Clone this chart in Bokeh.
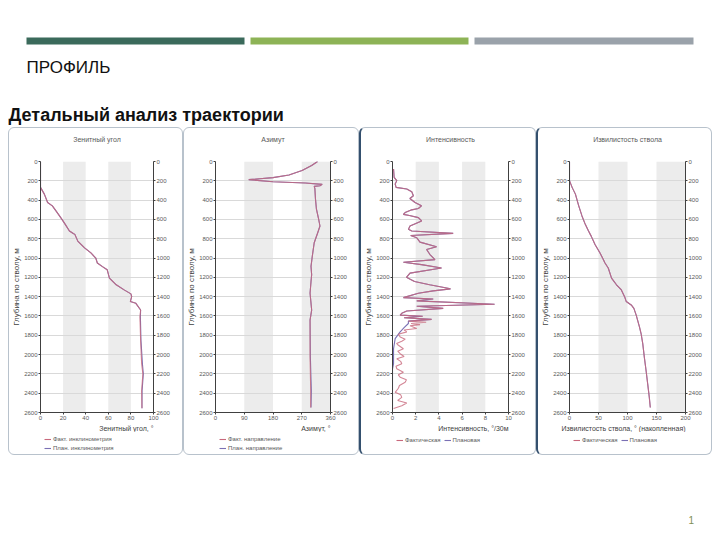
from bokeh.plotting import figure
from bokeh.models import Range1d, LinearAxis, FixedTicker, Title, Legend, LegendItem, Spacer
from bokeh.layouts import column, row
from bokeh.embed import file_html
from bokeh.resources import INLINE
from bokeh.core.properties import value

# ---------------- data ----------------
depth_ticks = [0, 200, 400, 600, 800, 1000, 1200, 1400, 1600, 1800, 2000, 2200, 2400, 2600]

# Panel 1: zenith angle
zen_md_fact = [0, 268, 338, 425, 460, 529, 599, 651, 720, 745, 755, 825, 894, 947, 1000, 1051,
               1086, 1121, 1208, 1277, 1330, 1371, 1400, 1451, 1469, 1538, 1608, 1852, 2095,
               2200, 2374, 2555]
zen_fact = [0, 0, 3.4, 6.3, 10.5, 14.8, 19.0, 21.9, 25.6, 29.0, 30.4, 33.0, 39.0, 44.6, 48.9, 50.3,
            54.5, 59.0, 61.0, 67.0, 74.0, 80.0, 80.7, 79.5, 84.4, 88.6, 88.0, 88.6, 89.5,
            90.6, 89.5, 89.8]
zen_md_plan = [0, 268, 338, 425, 460, 529, 599, 651, 720, 745, 755, 825, 894, 947, 1000, 1051,
               1086, 1121, 1208, 1277, 1330, 1371, 1400, 1451, 1469, 1538, 1608, 1852, 2095,
               2200, 2374, 2555]
zen_plan = [0, 0, 3.4, 6.3, 10.5, 14.8, 19.0, 21.9, 25.6, 29.0, 30.4, 33.0, 39.0, 44.6, 48.9, 50.3,
            54.5, 59.0, 61.0, 67.0, 74.0, 80.0, 80.7, 79.5, 84.4, 88.6, 88.4, 88.9, 90.2,
            91.0, 89.9, 89.8]
zen_ticks = [0, 20, 40, 60, 80, 100]

# Panel 2: azimuth
az_md_fact = [0, 42, 94, 139, 167, 188, 209, 223, 237, 251, 258, 278, 390, 494, 599, 668, 738,
              842, 981, 1086, 1173, 1243, 1365, 1539, 1643, 2026, 2374, 2548]
az_fact = [319.5, 301, 271, 230, 180, 104, 180, 281, 334, 327, 309, 311, 313, 316, 323, 327, 320,
           309, 303, 299, 301, 299, 296, 301, 296, 296, 298, 298]
az_md_plan = [0, 42, 94, 139, 167, 188, 209, 223, 237, 251, 258, 278, 390, 494, 599, 668, 738,
              842, 981, 1086, 1173, 1243, 1365, 1539, 1643, 2026, 2374, 2548]
az_plan = [319.5, 301, 271, 230, 180, 104, 180, 281, 334, 327, 309, 311, 313, 316, 323, 327, 320,
           309, 303, 299, 301, 299, 296, 301, 296, 297, 300, 299]
az_ticks = [0, 90, 180, 270, 360]

# Panel 3: dogleg intensity
dls_md_fact = [77, 164, 198, 233, 268, 285, 313, 355, 383, 425, 459, 487, 501, 529, 548, 560, 581,
               616, 668, 703, 720, 745, 766, 790, 835, 884, 912, 964, 1016, 1044, 1068, 1103,
               1156, 1200, 1243, 1277, 1319, 1340, 1364, 1410, 1424, 1444, 1479, 1500, 1521,
               1549, 1573, 1591, 1603, 1618, 1635, 1653, 1665, 1678, 1690, 1702, 1730, 1745,
               1765, 1790, 1817, 1840, 1862, 1885, 1904, 1939, 1965, 1991, 2020, 2043, 2070,
               2095, 2120, 2147, 2182, 2210, 2234, 2260, 2287, 2320, 2349, 2391, 2415, 2443,
               2475, 2502, 2530, 2558]
dls_fact = [0.09, 0.14, 0.37, 0.23, 0.31, 1.23, 1.66, 1.8, 1.5, 1.94, 2.5, 2.23, 1.66, 1.09, 0.94,
            1.46, 2.23, 2.51, 1.51, 1.37, 1.66, 5.23, 1.57, 2.09, 2.37, 3.8, 2.94, 3.23, 3.66,
            0.94, 2.5, 4.23, 1.51, 1.2, 1.9, 3.2, 5.0, 3.5, 2.23, 0.94, 3.51, 2.09, 8.8, 2.09,
            4.37, 1.23, 0.8, 0.66, 2.6, 1.0, 3.37, 1.37, 2.9, 1.6, 2.37, 1.51, 2.09, 1.0, 1.23,
            0.5, 0.66, 1.1, 0.8, 0.35, 0.51, 0.94, 0.45, 0.66, 1.0, 0.37, 0.7, 0.8, 0.3, 0.37,
            0.94, 0.5, 0.66, 1.2, 1.09, 0.6, 0.51, 0.23, 0.7, 0.8, 0.45, 1.23, 0.8, 0.09]
dls_md_plan = [77, 164, 198, 233, 268, 285, 313, 355, 383, 425, 459, 487, 501, 529, 548, 560, 581,
               616, 668, 703, 720, 745, 766, 790, 835, 884, 912, 964, 1016, 1044, 1068, 1103,
               1156, 1200, 1243, 1277, 1319, 1340, 1364, 1410, 1424, 1444, 1479, 1500, 1521,
               1549, 1573, 1591, 1603, 1618, 1635, 1653, 1678, 1720, 1765, 1834, 1939, 2095, 2150, 2558]
dls_plan = [0.09, 0.14, 0.37, 0.23, 0.31, 1.23, 1.66, 1.8, 1.5, 1.94, 2.5, 2.23, 1.66, 1.09, 0.94,
            1.46, 2.23, 2.51, 1.51, 1.37, 1.66, 5.23, 1.57, 2.09, 2.37, 3.8, 2.94, 3.23, 3.66,
            0.94, 2.5, 4.23, 1.51, 1.2, 1.9, 3.2, 5.0, 3.5, 2.23, 0.94, 3.51, 2.09, 8.8, 2.09,
            4.37, 1.23, 0.8, 0.66, 2.6, 1.0, 3.37, 1.37, 1.37, 1.0, 0.66, 0.23, 0.09, 0.09, 0.0, 0.0]
dls_ticks = [0, 2, 4, 6, 8, 10]

# Panel 4: cumulative tortuosity
tor_md_fact = [0, 198, 268, 338, 459, 564, 651, 720, 773, 860, 947, 1016, 1051, 1103, 1208, 1277,
               1330, 1400, 1451, 1486, 1521, 1591, 1712, 1782, 1887, 2026, 2165, 2304, 2443, 2548]
tor_fact = [0, 0, 4.5, 10.2, 15.9, 21.5, 27.2, 32.8, 37.4, 44.0, 52.6, 58.3, 61.2, 66.8, 72.5, 81.0,
            89.4, 95.0, 97.9, 106.4, 111.0, 115.0, 120.6, 123.4, 126.3, 129.0, 132.0, 134.8, 137.6, 139.3]
tor_md_plan = [0, 198, 268, 338, 459, 564, 651, 720, 773, 860, 947, 1016, 1051, 1103, 1208, 1277,
               1330, 1400, 1451, 1486, 1521, 1591, 1712, 1782, 1887, 2026, 2165, 2304, 2443, 2548]
tor_plan = [0, 0, 4.5, 10.2, 15.9, 21.5, 27.2, 32.8, 37.4, 44.0, 52.6, 58.3, 61.2, 66.8, 72.5, 81.0,
            89.4, 95.0, 97.9, 106.4, 111.0, 115.0, 120.6, 123.4, 126.3, 129.0, 132.0, 134.8, 137.6, 139.3]
tor_ticks = [0, 50, 100, 150, 200]

FACT_C = "#c8687c"
PLAN_C = "#7a70b4"
TXT = "#595959"
FONT = "Liberation Sans"


def style_axis(ax):
    ax.major_label_text_font = FONT
    ax.major_label_text_font_size = "6px"
    ax.major_label_text_color = TXT
    ax.major_label_standoff = 1
    ax.major_tick_out = 2
    ax.major_tick_in = 0
    ax.minor_tick_line_color = None
    ax.axis_line_color = "#404040"
    ax.major_tick_line_color = "#404040"


def make_panel(width, lb, rb, title, xlabel, xticks, md_f, v_f, md_p, v_p, labels, vertical,
               leg_x, leg_y, extra_style):
    p = figure(width=width, height=304, x_range=Range1d(xticks[0], xticks[-1]),
               y_range=Range1d(2600, 0), output_backend="svg", toolbar_location=None,
               min_border_left=lb, min_border_right=rb, min_border_top=33, min_border_bottom=20)
    # thin blank spacer title next to the frame, then the real title above it
    p.add_layout(Title(text=" ", text_font_size="2px"), "above")
    p.add_layout(Title(text=title, align="center", text_font=FONT, text_font_size="7px",
                       text_font_style="normal", text_color=TXT), "above")
    p.outline_line_color = None
    p.background_fill_color = "white"
    p.border_fill_color = None

    p.xaxis.ticker = FixedTicker(ticks=xticks)
    p.yaxis.ticker = FixedTicker(ticks=depth_ticks)
    for ax in list(p.xaxis) + list(p.yaxis):
        style_axis(ax)
    p.yaxis.axis_label = "Глубина по стволу, м"
    p.yaxis.axis_label_text_font = FONT
    p.yaxis.axis_label_text_font_size = "8px"
    p.yaxis.axis_label_text_font_style = "normal"
    p.yaxis.axis_label_text_color = "#404040"
    p.yaxis.axis_label_standoff = 0

    # x-axis caption, right-aligned under the frame
    p.add_layout(Title(text=xlabel, align="right", text_font=FONT, text_font_size="7px",
                       text_font_style="normal", text_color="#404040", standoff=0), "below")

    rax = LinearAxis(ticker=FixedTicker(ticks=depth_ticks))
    style_axis(rax)
    p.add_layout(rax, "right")

    p.xgrid.grid_line_color = None
    p.xgrid.band_fill_color = "#ececec"
    p.xgrid.band_fill_alpha = 1
    p.ygrid.grid_line_color = "#d9d9d9"

    p.line(x=v_p, y=md_p, line_color=PLAN_C, line_width=1.1)
    p.line(x=v_f, y=md_f, line_color=FACT_C, line_width=1.1, line_alpha=0.8)

    # legend strip under the chart (its frame shows no data; lines fall outside its ranges)
    lg = figure(width=width, height=22, x_range=Range1d(-20, -10), y_range=Range1d(-20, -10),
                output_backend="svg", toolbar_location=None, min_border=0,
                x_axis_location=None, y_axis_location=None)
    lg.grid.visible = False
    lg.outline_line_color = None
    lg.background_fill_color = None
    lg.border_fill_color = None
    lf = lg.line(x=v_f, y=md_f, line_color=FACT_C, line_width=1.1)
    lp = lg.line(x=v_p, y=md_p, line_color=PLAN_C, line_width=1.1)
    leg = Legend(items=[LegendItem(label=labels[0], renderers=[lf]),
                        LegendItem(label=labels[1], renderers=[lp])],
                 location=(leg_x, leg_y), orientation="vertical" if vertical else "horizontal",
                 label_text_font=FONT, label_text_font_size="6px", label_text_color=TXT,
                 glyph_width=7, glyph_height=6, label_height=6, label_standoff=2, spacing=3,
                 padding=0, margin=0, background_fill_alpha=0, border_line_color=None)
    lg.add_layout(leg)
    st = {"border": "1px solid #b8c2cc", "border-radius": "6px", "background": "white"}
    st.update(extra_style)
    return column(p, lg, spacing=0, styles=st)


p1 = make_panel(173, 27, 29, "Зенитный угол", "Зенитный угол, °", zen_ticks,
                zen_md_fact, zen_fact, zen_md_plan, zen_plan,
                ["Факт. инклинометрия", "План. инклинометрия"], True, 4, 3, {})
p2 = make_panel(174, 28, 28, "Азимут", "Азимут, °", az_ticks,
                az_md_fact, az_fact, az_md_plan, az_plan,
                ["Факт. направление", "План. направление"], True, 4, 3, {})
p3 = make_panel(174, 30, 27, "Интенсивность", "Интенсивность, °/30м", dls_ticks,
                dls_md_fact, dls_fact, dls_md_plan, dls_plan,
                ["Фактическая", "Плановая"], False, 4, 11,
                {"border-left": "2px solid #34506e"})
p4 = make_panel(173, 29, 26, "Извилистость ствола", "Извилистость ствола, ° (накопленная)", tor_ticks,
                tor_md_fact, tor_fact, tor_md_plan, tor_plan,
                ["Фактическая", "Плановая"], False, 4, 11,
                {"border-left": "2px solid #34506e"})

# ---------------- header ----------------
hdr = figure(width=720, height=127, x_range=Range1d(0, 720), y_range=Range1d(127, 0),
             output_backend="svg", toolbar_location=None, min_border=0)
hdr.axis.visible = False
hdr.grid.visible = False
hdr.outline_line_color = None
bar_left = [26, 250, 474]
bar_right = [244, 468, 693]
bar_colors = ["#3b6a5b", "#8db356", "#9aa2aa"]
hdr.quad(left=bar_left, right=bar_right, top=[37, 37, 37], bottom=[44, 44, 44],
         fill_color=bar_colors, line_color=None)
hdr.text(x=[26], y=[67], text=["ПРОФИЛЬ"], text_font=value("Liberation Sans"),
         text_font_size="17px", text_color="#111111", text_baseline="alphabetic")
hdr.text(x=[8], y=[114], text=["Детальный анализ траектории"],
         text_font=value("Liberation Sans"), text_font_style="bold",
         text_font_size="18px", text_color="#111111", text_baseline="alphabetic")

# ---------------- footer ----------------
ftr = figure(width=720, height=80, x_range=Range1d(0, 720), y_range=Range1d(80, 0),
             output_backend="svg", toolbar_location=None, min_border=0)
ftr.axis.visible = False
ftr.grid.visible = False
ftr.outline_line_color = None
ftr.text(x=[688], y=[64], text=["1"], text_font=value("Liberation Sans"),
         text_font_size="10px", text_color="#7f8f55", text_baseline="middle")

layout = column(hdr, row(Spacer(width=8, height=328), p1, p2, p3, p4, spacing=0), ftr, spacing=0)
open("out.html", "w").write(file_html(layout, INLINE))
